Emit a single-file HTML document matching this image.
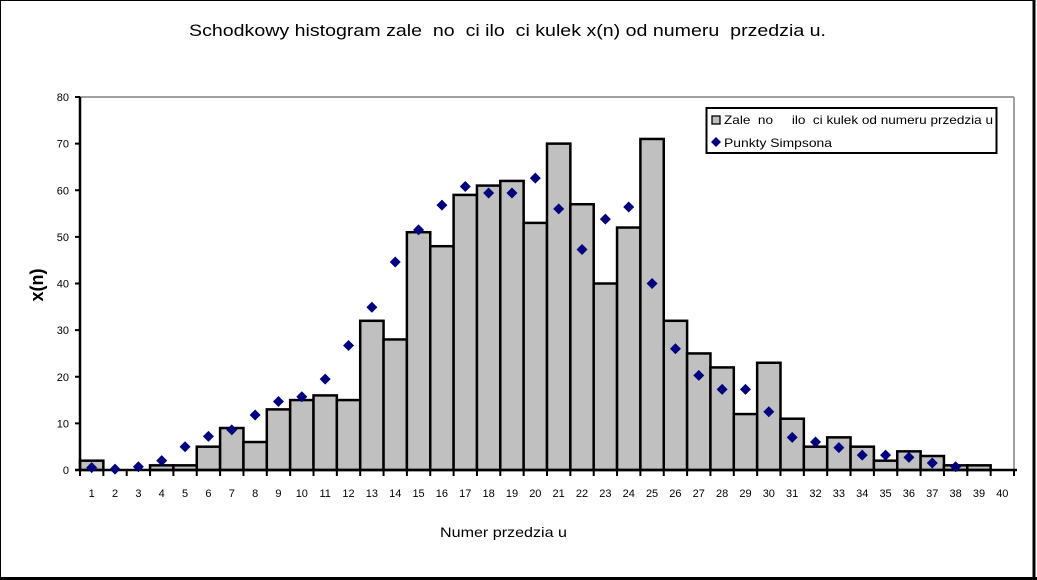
<!DOCTYPE html>
<html><head><meta charset="utf-8"><style>
html,body{margin:0;padding:0;background:#fff;}
svg{display:block;font-family:"Liberation Sans",sans-serif;}
text{white-space:pre;}
</style></head><body>
<svg id="chart" width="1037" height="580" xml:space="preserve">
<rect x="0.5" y="0.5" width="1033" height="577" fill="#fff" stroke="#000" stroke-width="1"/>
<line x1="1034" y1="0" x2="1034" y2="580" stroke="#000" stroke-width="3"/>
<line x1="0" y1="578.5" x2="1037" y2="578.5" stroke="#000" stroke-width="3"/>
<text x="189" y="36" font-size="17" textLength="637" lengthAdjust="spacingAndGlyphs">Schodkowy histogram zale  no  ci ilo  ci kulek x(n) od numeru  przedzia u.</text>
<text transform="translate(43,285) rotate(-90)" font-size="18" font-weight="bold" text-anchor="middle">x(n)</text>
<text x="440" y="537" font-size="14" textLength="127" lengthAdjust="spacingAndGlyphs">Numer przedzia u</text>
<line x1="80" y1="97" x2="1014" y2="97" stroke="#808080" stroke-width="1.5"/>
<line x1="1014" y1="97" x2="1014" y2="470" stroke="#808080" stroke-width="1.5"/>
<g id="bars"></g>
<g id="axes"></g>
<g id="points"></g>
<g>
<rect x="706.5" y="108" width="290" height="45" fill="#fff" stroke="#000" stroke-width="2"/>
<rect x="712" y="116" width="8" height="8" fill="#c0c0c0" stroke="#000" stroke-width="1.3"/>
<text x="724" y="124" font-size="12" textLength="269" lengthAdjust="spacingAndGlyphs">Zale  no     ilo  ci kulek od numeru przedzia u</text>
<path d="M716,137 L721,142 L716,147 L711,142 Z" fill="#00007f"/>
<text x="724" y="147" font-size="12" textLength="108" lengthAdjust="spacingAndGlyphs">Punkty Simpsona</text>
</g>
</svg>
<script>
const categories = [1,2,3,4,5,6,7,8,9,10,11,12,13,14,15,16,17,18,19,20,21,22,23,24,25,26,27,28,29,30,31,32,33,34,35,36,37,38,39,40];
const barValues = [2,0,0,1,1,5,9,6,13,15,16,15,32,28,51,48,59,61,62,53,70,57,40,52,71,32,25,22,12,23,11,5,7,5,2,4,3,1,1,0];
const pointValues = [0.5,0.2,0.7,2,5,7.2,8.6,11.8,14.7,15.7,19.5,26.7,34.9,44.6,51.5,56.8,60.8,59.4,59.4,62.6,56,47.3,53.8,56.4,40,26,20.3,17.3,17.3,12.5,7,6,4.8,3.2,3.2,2.7,1.5,0.7];
const yTicks = [0,10,20,30,40,50,60,70,80];
const NS='http://www.w3.org/2000/svg';
const L=80,R=1014,Y0=470,Y80=97;
const bw=(R-L)/categories.length;
function xs(i){return L+i*bw;}
function ys(v){return Y0-(v/80)*(Y0-Y80);}
function mk(t,a,p){const e=document.createElementNS(NS,t);for(const k in a)e.setAttribute(k,a[k]);p.appendChild(e);return e;}
const gb=document.getElementById('bars'),ga=document.getElementById('axes'),gp=document.getElementById('points');
barValues.forEach((v,i)=>{
  if(v<=0)return;
  const r=mk('rect',{x:xs(i),y:ys(v),width:bw,height:Y0-ys(v),fill:'#c0c0c0',stroke:'#000','stroke-width':2.5},gb);
  
  
});
const ya=mk('line',{x1:L,y1:Y80,x2:L,y2:Y0,stroke:'#000','stroke-width':2.5},ga);


const xa=mk('line',{x1:L-5,y1:Y0,x2:R+3,y2:Y0,stroke:'#000','stroke-width':2.5},ga);


yTicks.forEach(t=>{
  mk('line',{x1:L-5,y1:ys(t),x2:L,y2:ys(t),stroke:'#000','stroke-width':2},ga);
  const tx=mk('text',{x:L-11,y:ys(t)+4,'font-size':11,'text-anchor':'end'},ga);
  tx.textContent=t;
  
  
});
categories.forEach((c,i)=>{
  mk('line',{x1:xs(i),y1:Y0,x2:xs(i),y2:Y0+6,stroke:'#000','stroke-width':2},ga);
  const tx=mk('text',{x:xs(i)+bw/2,y:Y0+27,'font-size':11,'text-anchor':'middle'},ga);
  tx.textContent=c;
  
  
});
mk('line',{x1:R,y1:Y0,x2:R,y2:Y0+6,stroke:'#000','stroke-width':2},ga);
pointValues.forEach((v,i)=>{
  const cx=xs(i)+bw/2,cy=ys(v);
  const p=mk('path',{d:`M${cx},${cy-5.5} L${cx+5.5},${cy} L${cx},${cy+5.5} L${cx-5.5},${cy} Z`,fill:'#00007f'},gp);
  
  
});
</script>
</body></html>
